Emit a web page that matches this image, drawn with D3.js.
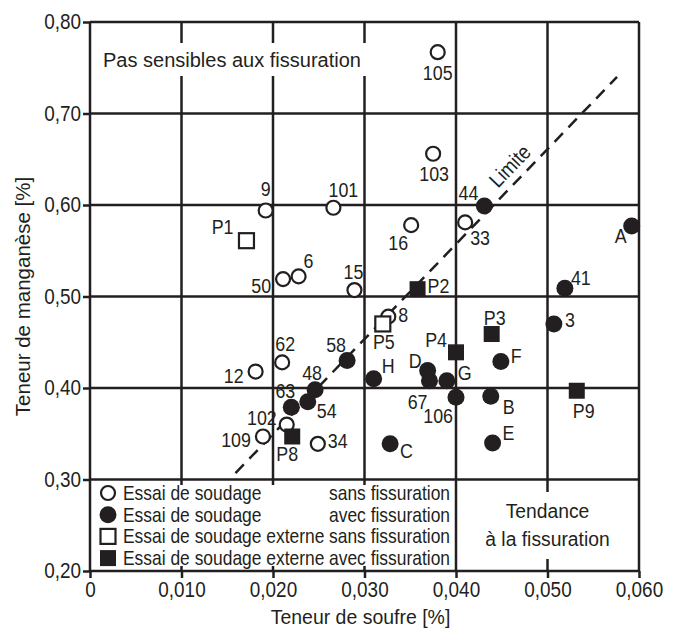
<!DOCTYPE html>
<html lang="fr">
<head>
    <meta charset="UTF-8">
    <title>Teneur de manganèse / soufre</title>
    <script src="https://d3js.org/d3.v7.js"></script>
    <style>
        body {
            margin: 0;
            background: #fff;
        }
        text {
            font-family: "Liberation Sans", Arial, sans-serif;
            fill: #231f20;
        }
    </style>
</head>
<body>
    <svg id="chart"></svg>

    <script>
        // Data: [label, soufre %, manganese %]
        const essaiSans = [
            ["9", 0.0192, 0.594], ["101", 0.0266, 0.597], ["50", 0.0211, 0.519],
            ["6", 0.0228, 0.522], ["15", 0.0289, 0.507], ["16", 0.0351, 0.578],
            ["105", 0.0380, 0.767], ["103", 0.0375, 0.656], ["33", 0.0410, 0.581],
            ["62", 0.0210, 0.428], ["12", 0.0181, 0.418], ["102", 0.0215, 0.360],
            ["109", 0.0189, 0.347], ["34", 0.0249, 0.339], ["8", 0.0326, 0.478]
        ];
        const essaiAvec = [
            ["44", 0.0431, 0.599], ["A", 0.0592, 0.577], ["41", 0.0519, 0.509],
            ["58", 0.0281, 0.430], ["48", 0.0246, 0.398], ["54", 0.0238, 0.385],
            ["63", 0.0220, 0.379], ["H", 0.0310, 0.410], ["D", 0.0369, 0.419],
            ["67", 0.0371, 0.408], ["G", 0.0390, 0.408], ["106", 0.0400, 0.390],
            ["C", 0.0328, 0.339], ["F", 0.0449, 0.429], ["B", 0.0438, 0.391],
            ["E", 0.0440, 0.340], ["3", 0.0507, 0.470]
        ];
        const externeSans = [
            ["P1", 0.0171, 0.561], ["P5", 0.0320, 0.470]
        ];
        const externeAvec = [
            ["P2", 0.0358, 0.508], ["P3", 0.0439, 0.459], ["P4", 0.0400, 0.439],
            ["P8", 0.0221, 0.347], ["P9", 0.0532, 0.397]
        ];

        // "Limite" line end points
        const limiteX = [0.0159, 0.0576];
        const limiteY = [0.307, 0.740];

        const xTicks = [0, 0.010, 0.020, 0.030, 0.040, 0.050, 0.060];
        const yTicks = [0.20, 0.30, 0.40, 0.50, 0.60, 0.70, 0.80];

        const legendItems = [
            ["Essai de soudage", "sans fissuration", "circle", false],
            ["Essai de soudage", "avec fissuration", "circle", true],
            ["Essai de soudage externe", "sans fissuration", "square", false],
            ["Essai de soudage externe", "avec fissuration", "square", true]
        ];

        // label placement: [dx, dy, anchor]
        const labelPos = {
            "9": [0, -14, "middle"], "101": [10, -11, "middle"], "P1": [-13, -7, "end"],
            "50": [-12, 14, "end"], "6": [5, -8, "start"], "15": [-1, -11, "middle"],
            "16": [-3, 25, "end"], "P2": [10, 4, "start"], "105": [0, 28, "middle"],
            "103": [1, 27, "middle"], "44": [-6, -6, "end"], "33": [5, 23, "start"],
            "A": [-5, 17, "end"], "41": [6, -3, "start"], "62": [3, -11, "middle"],
            "12": [-12, 11, "end"], "58": [-11, -9, "middle"], "48": [-3, -10, "middle"],
            "63": [-6, -9, "middle"], "54": [9, 16, "start"], "102": [-10, 0, "end"],
            "109": [-12, 11, "end"], "P8": [-5, 25, "middle"], "34": [10, 4, "start"],
            "P5": [1, 25, "middle"], "8": [10, 5, "start"], "H": [8, -6, "start"],
            "D": [-6, -3, "end"], "67": [-2, 28, "end"], "G": [11, -1, "start"],
            "106": [-3, 26, "end"], "P4": [-9, -5, "end"], "C": [10, 14, "start"],
            "P3": [3, -9, "middle"], "F": [10, 2, "start"], "B": [12, 18, "start"],
            "E": [10, -3, "start"], "3": [11, 3, "start"], "P9": [7, 27, "middle"]
        };

        const width = 681;
        const height = 630;
        const ink = "#231f20";
        const mLeft = 90, mRight = 639, mTop = 22, mBottom = 571;

        const svg = d3.select("#chart")
            .attr("width", width)
            .attr("height", height);

        const x = d3.scaleLinear().domain([0, 0.06]).range([mLeft, mRight]);
        const y = d3.scaleLinear().domain([0.2, 0.8]).range([mBottom, mTop]);

        const fmtX = d => d === 0 ? "0" : d3.format(".3f")(d).replace(".", ",");
        const fmtY = d => d3.format(".2f")(d).replace(".", ",");

        // condensed look: squeeze text horizontally around its anchor point
        function squeeze(sel, sx) {
            sel.each(function() {
                const t = d3.select(this);
                const tx = +t.attr("x") || 0;
                const ty = +t.attr("y") || 0;
                const prev = t.attr("transform") || "";
                t.attr("x", null).attr("y", null)
                    .attr("transform", `${prev} translate(${tx},${ty}) scale(${sx},1)`);
            });
        }

        // grid
        svg.append("g").selectAll("line")
            .data(xTicks)
            .join("line")
            .attr("x1", d => x(d)).attr("x2", d => x(d))
            .attr("y1", mTop).attr("y2", mBottom)
            .attr("stroke", ink).attr("stroke-width", 2.5);
        svg.append("g").selectAll("line")
            .data(yTicks)
            .join("line")
            .attr("x1", mLeft).attr("x2", mRight)
            .attr("y1", d => y(d)).attr("y2", d => y(d))
            .attr("stroke", ink).attr("stroke-width", 2.5);

        // axes
        const xAxis = svg.append("g")
            .attr("transform", `translate(0,${mBottom})`)
            .call(d3.axisBottom(x).tickValues(xTicks).tickFormat(fmtX).tickSize(7).tickPadding(4));
        const yAxis = svg.append("g")
            .attr("transform", `translate(${mLeft},0)`)
            .call(d3.axisLeft(y).tickValues(yTicks).tickFormat(fmtY).tickSize(7).tickPadding(2));
        [xAxis, yAxis].forEach(a => {
            a.attr("font-family", null);
            a.select(".domain").remove();
            a.selectAll(".tick line").attr("stroke", ink).attr("stroke-width", 2.5);
            a.selectAll(".tick text").attr("font-size", 21.5).attr("fill", ink)
                .call(squeeze, 0.88);
        });

        // axis titles
        svg.append("text")
            .attr("x", (mLeft + mRight) / 2 - 4)
            .attr("y", 624)
            .attr("text-anchor", "middle")
            .attr("font-size", 20.5)
            .text("Teneur de soufre [%]")
            .call(squeeze, 0.95);
        svg.append("text")
            .attr("transform", `translate(30,${(mTop + mBottom) / 2}) rotate(-90)`)
            .attr("text-anchor", "middle")
            .attr("font-size", 20.5)
            .text("Teneur de manganèse [%]");

        // white boxes behind texts
        svg.append("rect")
            .attr("x", 100).attr("y", 43).attr("width", 268).attr("height", 33)
            .attr("fill", "#fff");
        svg.append("rect")
            .attr("x", mLeft + 2).attr("y", 485).attr("width", 362).attr("height", 81)
            .attr("fill", "#fff");
        svg.append("rect")
            .attr("x", 482).attr("y", 492).attr("width", 132).attr("height", 67)
            .attr("fill", "#fff");

        svg.append("text")
            .attr("x", 103).attr("y", 67)
            .attr("font-size", 20)
            .text("Pas sensibles aux fissuration");
        const tendLines = ["Tendance", "à la fissuration"];
        svg.append("g").selectAll("text")
            .data(tendLines)
            .join("text")
            .attr("x", x(0.05))
            .attr("y", (d, i) => 518 + i * 28)
            .attr("text-anchor", "middle")
            .attr("font-size", 21)
            .text(d => d)
            .call(squeeze, 0.92);

        // Limite line
        svg.append("line")
            .attr("x1", x(limiteX[0])).attr("y1", y(limiteY[0]))
            .attr("x2", x(limiteX[1])).attr("y2", y(limiteY[1]))
            .attr("stroke", ink).attr("stroke-width", 2.5)
            .attr("stroke-dasharray", "12,8");
        const ang = Math.atan2(y(limiteY[1]) - y(limiteY[0]), x(limiteX[1]) - x(limiteX[0])) * 180 / Math.PI;
        svg.append("text")
            .attr("transform", `translate(515,171) rotate(${ang})`)
            .attr("text-anchor", "middle")
            .attr("font-size", 21)
            .text("Limite")
            .call(squeeze, 0.88);

        // markers
        const rOpen = 7, rFill = 8.5, sq = 15;
        function drawCircles(data, filled) {
            svg.append("g").selectAll("circle")
                .data(data)
                .join("circle")
                .attr("cx", d => x(d[1]))
                .attr("cy", d => y(d[2]))
                .attr("r", filled ? rFill : rOpen)
                .attr("fill", filled ? ink : "#fff")
                .attr("stroke", ink)
                .attr("stroke-width", filled ? 0 : 2.2);
        }
        function drawSquares(data, filled) {
            const s = filled ? sq + 1 : sq;
            svg.append("g").selectAll("rect")
                .data(data)
                .join("rect")
                .attr("x", d => x(d[1]) - s / 2)
                .attr("y", d => y(d[2]) - s / 2)
                .attr("width", s).attr("height", s)
                .attr("fill", filled ? ink : "#fff")
                .attr("stroke", ink)
                .attr("stroke-width", filled ? 0 : 2.2);
        }
        drawCircles(essaiSans, false);
        drawCircles(essaiAvec, true);
        drawSquares(externeSans, false);
        drawSquares(externeAvec, true);

        // point labels
        const allPoints = essaiSans.concat(essaiAvec, externeSans, externeAvec);
        svg.append("g").selectAll("text")
            .data(allPoints)
            .join("text")
            .attr("x", d => x(d[1]) + labelPos[d[0]][0])
            .attr("y", d => y(d[2]) + labelPos[d[0]][1])
            .attr("text-anchor", d => labelPos[d[0]][2])
            .attr("font-size", 21)
            .text(d => d[0])
            .call(squeeze, 0.85);

        // legend
        const lg = svg.append("g");
        legendItems.forEach((item, i) => {
            const cy = 493 + i * 21.7;
            if (item[2] === "circle") {
                lg.append("circle")
                    .attr("cx", 108).attr("cy", cy)
                    .attr("r", item[3] ? rFill : rOpen)
                    .attr("fill", item[3] ? ink : "#fff")
                    .attr("stroke", ink).attr("stroke-width", item[3] ? 0 : 2.2);
            } else {
                const s = item[3] ? sq + 1 : sq;
                lg.append("rect")
                    .attr("x", 108 - s / 2).attr("y", cy - s / 2)
                    .attr("width", s).attr("height", s)
                    .attr("fill", item[3] ? ink : "#fff")
                    .attr("stroke", ink).attr("stroke-width", item[3] ? 0 : 2.2);
            }
            lg.append("text")
                .attr("x", 123).attr("y", cy + 7)
                .attr("font-size", 20.5)
                .text(item[0])
                .call(squeeze, 0.85);
            lg.append("text")
                .attr("x", 329).attr("y", cy + 7)
                .attr("font-size", 20.5)
                .text(item[1])
                .call(squeeze, 0.85);
        });
    </script>
</body>
</html>
